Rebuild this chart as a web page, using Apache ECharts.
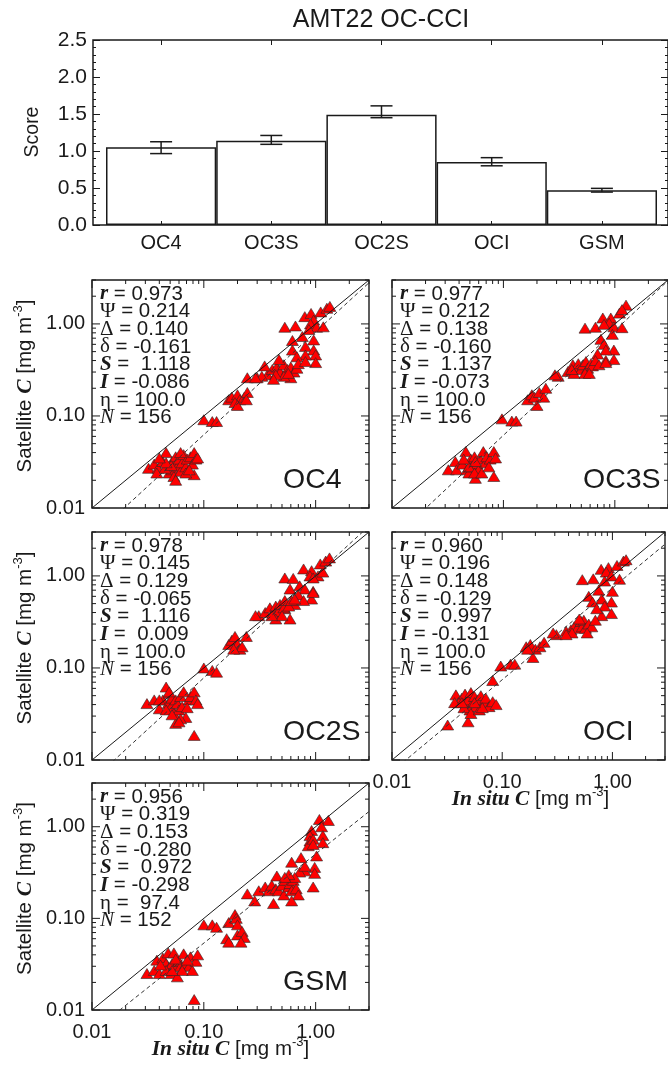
<!DOCTYPE html>
<html><head><meta charset="utf-8">
<script src="https://cdn.jsdelivr.net/npm/echarts@6/dist/echarts.min.js"></script>
<style>html,body{margin:0;padding:0;background:#fff;}#c{width:668px;height:1067px;}</style>
</head><body><div id="c"></div>
<script>
// ---------------- data ----------------
const chartTitle = 'AMT22 OC-CCI';
const algorithms = ['OC4', 'OC3S', 'OC2S', 'OCI', 'GSM'];
const scoreValues = [1.05, 1.14, 1.49, 0.85, 0.47];
const scoreErrLow = [0.965, 1.09, 1.45, 0.80, 0.445];
const scoreErrHigh = [1.125, 1.21, 1.61, 0.91, 0.495];

const logMajorTicks = [0.01, 0.1, 1];
const logMinorTicks = [0.02, 0.03, 0.04, 0.05, 0.06, 0.07, 0.08, 0.09,
  0.2, 0.3, 0.4, 0.5, 0.6, 0.7, 0.8, 0.9, 2, 3];

const statR = ['0.973', '0.977', '0.978', '0.960', '0.956'];
const statPsi = ['0.214', '0.212', '0.145', '0.196', '0.319'];
const statBigDelta = ['0.140', '0.138', '0.129', '0.148', '0.153'];
const statSmallDelta = ['-0.161', '-0.160', '-0.065', '-0.129', '-0.280'];
const statSlope = [1.118, 1.137, 1.116, 0.997, 0.972];
const statIntercept = [-0.086, -0.073, 0.009, -0.131, -0.298];
const statEta = ['100.0', '100.0', '100.0', '100.0', ' 97.4'];
const statN = ['156', '156', '156', '156', '152'];

const pointsOC4 = [
  [0.53,0.92],[0.66,0.95],[0.80,1.2],[0.91,1.3],[0.96,1.1],[0.90,1.0],[1.02,0.92],[1.11,1.35],[1.26,1.48],[1.34,1.55],
  [1.17,0.93],[0.87,0.87],[0.62,0.66],[0.76,0.73],[0.96,0.67],[0.62,0.52],[0.81,0.57],[0.96,0.52],[1.0,0.46],[0.81,0.46],
  [0.68,0.44],[1.0,0.38],
  [0.30,0.26],[0.37,0.28],[0.41,0.32],[0.45,0.34],[0.48,0.30],[0.52,0.36],[0.56,0.32],[0.60,0.34],[0.64,0.30],[0.68,0.33],
  [0.70,0.37],[0.60,0.26],[0.52,0.27],[0.44,0.28],[0.47,0.41],[0.81,0.39],[0.35,0.35],[0.42,0.25],[0.33,0.27],[0.57,0.29],
  [0.245,0.26],[0.29,0.26],
  [0.167,0.15],[0.178,0.16],[0.20,0.17],[0.21,0.15],[0.23,0.16],[0.245,0.18],[0.19,0.14],[0.24,0.15],[0.20,0.13],
  [0.10,0.091],[0.119,0.087],[0.13,0.087],
  [0.032,0.027],[0.036,0.030],[0.039,0.027],[0.043,0.032],[0.046,0.040],[0.048,0.028],[0.049,0.024],[0.052,0.032],
  [0.052,0.026],[0.054,0.022],[0.056,0.036],[0.058,0.028],[0.060,0.034],[0.062,0.025],[0.064,0.031],[0.066,0.038],
  [0.069,0.028],[0.071,0.034],[0.076,0.036],[0.079,0.030],[0.082,0.040],[0.085,0.034],[0.088,0.035],[0.082,0.023],
  [0.056,0.020],[0.045,0.027],[0.051,0.029],[0.062,0.040],[0.046,0.031],[0.040,0.035],[0.038,0.024],[0.069,0.024],[0.074,0.026]
];
const pointsOC3S = [
  [0.54,0.90],[0.67,0.92],[0.78,1.16],[0.92,1.16],[0.89,1.02],[0.80,0.99],[0.98,0.93],[1.16,0.91],[1.10,1.31],[1.26,1.60],
  [1.16,1.43],[0.95,0.77],[0.75,0.68],[0.80,0.60],[0.98,0.52],[0.83,0.52],[0.70,0.47],[0.98,0.41],[0.83,0.40],
  [0.31,0.27],[0.38,0.305],[0.42,0.36],[0.45,0.33],[0.47,0.37],[0.50,0.32],[0.52,0.36],[0.55,0.39],[0.57,0.33],[0.61,0.37],
  [0.63,0.35],[0.67,0.40],[0.72,0.36],[0.54,0.29],[0.43,0.29],[0.41,0.32],[0.59,0.29],[0.83,0.38],
  [0.165,0.15],[0.18,0.17],[0.19,0.16],[0.20,0.13],[0.21,0.18],[0.23,0.16],[0.24,0.20],[0.29,0.28],
  [0.097,0.093],[0.119,0.088],[0.13,0.088],
  [0.032,0.026],[0.037,0.032],[0.038,0.026],[0.043,0.030],[0.046,0.041],[0.047,0.026],[0.049,0.024],[0.051,0.034],
  [0.052,0.028],[0.055,0.036],[0.056,0.021],[0.058,0.030],[0.060,0.026],[0.062,0.034],[0.066,0.041],[0.069,0.031],
  [0.071,0.036],[0.076,0.034],[0.082,0.041],[0.085,0.035],[0.082,0.022],[0.049,0.028],[0.055,0.024],[0.044,0.034],
  [0.064,0.024],[0.056,0.032],[0.074,0.028]
];
const pointsOC2S = [
  [0.53,0.95],[0.63,0.94],[0.78,1.19],[0.92,1.14],[0.89,1.0],[1.05,1.0],[1.16,1.1],[1.10,1.35],[1.23,1.45],[1.33,1.57],
  [0.95,0.95],[0.59,0.72],[0.72,0.78],[0.80,0.72],[0.95,0.68],[0.92,0.56],[0.95,0.66],[0.70,0.62],[0.78,0.54],[0.65,0.49],
  [0.53,0.44],[0.59,0.34],
  [0.31,0.37],[0.354,0.40],[0.39,0.45],[0.42,0.40],[0.44,0.47],[0.465,0.41],[0.48,0.49],[0.52,0.45],[0.53,0.54],[0.575,0.47],
  [0.61,0.54],[0.65,0.56],[0.44,0.34],[0.50,0.37],[0.405,0.37],[0.29,0.37],
  [0.167,0.18],[0.178,0.20],[0.19,0.22],[0.20,0.18],[0.21,0.16],[0.22,0.17],[0.24,0.22],[0.185,0.16],
  [0.10,0.10],[0.119,0.094],[0.13,0.09],
  [0.031,0.041],[0.036,0.045],[0.040,0.036],[0.043,0.045],[0.046,0.062],[0.048,0.041],[0.049,0.053],[0.051,0.038],
  [0.052,0.047],[0.054,0.032],[0.056,0.045],[0.056,0.025],[0.058,0.041],[0.060,0.035],[0.062,0.049],[0.064,0.038],
  [0.066,0.055],[0.069,0.029],[0.074,0.045],[0.076,0.049],[0.082,0.055],[0.085,0.045],[0.088,0.041],[0.082,0.0185],
  [0.046,0.035],[0.052,0.031],[0.040,0.045],[0.062,0.028],[0.071,0.037],[0.049,0.055],[0.060,0.026]
];
const pointsOCI = [
  [0.533,0.91],[0.67,0.93],[0.79,1.18],[0.92,1.23],[0.88,1.10],[0.85,0.88],[0.98,1.0],[1.16,0.92],[1.10,1.30],[1.26,1.45],
  [1.33,1.50],[1.0,0.68],[0.75,0.70],[0.61,0.60],[0.80,0.56],[0.98,0.52],[0.66,0.52],[0.85,0.47],[0.98,0.39],[0.80,0.37],
  [0.72,0.44],
  [0.31,0.23],[0.38,0.25],[0.42,0.26],[0.45,0.28],[0.48,0.27],[0.52,0.32],[0.533,0.28],[0.55,0.33],[0.57,0.27],[0.61,0.30],
  [0.65,0.28],[0.70,0.33],[0.59,0.24],[0.43,0.24],[0.50,0.34],[0.29,0.24],[0.38,0.23],
  [0.165,0.17],[0.18,0.18],[0.20,0.16],[0.22,0.17],[0.24,0.19],[0.19,0.13],[0.17,0.16],
  [0.097,0.105],[0.119,0.11],[0.13,0.11],[0.082,0.073],
  [0.032,0.024],[0.038,0.051],[0.040,0.042],[0.043,0.047],[0.046,0.052],[0.047,0.040],[0.049,0.045],[0.051,0.035],
  [0.052,0.054],[0.055,0.043],[0.056,0.049],[0.049,0.026],[0.058,0.038],[0.060,0.045],[0.064,0.050],[0.069,0.042],
  [0.071,0.047],[0.076,0.038],[0.082,0.043],[0.088,0.040],[0.037,0.042],[0.045,0.037],[0.052,0.032],[0.062,0.035],
  [0.066,0.037],[0.043,0.042],[0.056,0.042]
];
const pointsGSM = [
  [0.92,0.91],[0.89,0.80],[0.89,0.70],[0.86,0.62],[0.95,0.73],[1.08,1.2],[1.30,1.17],[1.13,1.0],[1.16,0.80],[1.16,0.67],
  [1.02,0.48],[0.95,0.64],[0.98,0.36],[0.98,0.31],[0.95,0.22],[0.80,0.33],[0.72,0.32],[0.80,0.37],[0.61,0.41],[0.74,0.46],
  [0.31,0.20],[0.354,0.22],[0.38,0.20],[0.405,0.23],[0.44,0.21],[0.45,0.29],[0.465,0.20],[0.50,0.23],[0.52,0.18],[0.53,0.26],
  [0.575,0.22],[0.59,0.24],[0.61,0.20],[0.63,0.26],[0.65,0.28],[0.67,0.21],[0.70,0.18],[0.61,0.155],[0.42,0.145],[0.575,0.30],
  [0.285,0.155],[0.245,0.185],[0.53,0.28],
  [0.10,0.085],[0.119,0.085],[0.13,0.08],[0.167,0.09],[0.19,0.11],[0.195,0.10],[0.20,0.085],[0.16,0.06],[0.167,0.055],
  [0.20,0.066],[0.22,0.072],[0.23,0.062],[0.215,0.055],
  [0.031,0.025],[0.036,0.027],[0.038,0.035],[0.040,0.025],[0.043,0.037],[0.046,0.032],[0.048,0.042],[0.049,0.029],
  [0.051,0.025],[0.052,0.032],[0.054,0.042],[0.056,0.030],[0.058,0.023],[0.060,0.034],[0.062,0.030],[0.066,0.041],
  [0.069,0.032],[0.074,0.030],[0.076,0.038],[0.079,0.027],[0.085,0.034],[0.088,0.040],[0.082,0.013],[0.046,0.027],
  [0.056,0.036],[0.064,0.027],[0.071,0.035],[0.041,0.031],[0.052,0.027]
];
const scatterSets = [pointsOC4, pointsOC3S, pointsOC2S, pointsOCI, pointsGSM];

// ---------------- layout ----------------
const LOGMIN = 0.01, LOGMAX = 3;
const panels = [
  {left: 92, top: 280, w: 277, h: 228, yLab: true, xLab: false},
  {left: 392, top: 280, w: 277, h: 228, yLab: false, xLab: false},
  {left: 92, top: 532, w: 277, h: 228, yLab: true, xLab: false},
  {left: 392, top: 532, w: 277, h: 228, yLab: false, xLab: true},
  {left: 92, top: 783, w: 277, h: 227, yLab: true, xLab: true}
];
const INK = '#1a1a1a';
const SANS = 'Liberation Sans, Arial, Helvetica, sans-serif';
const SERIF = 'Liberation Serif, Times New Roman, serif';
const isDecade = v => { const l = Math.log10(v); return Math.abs(l - Math.round(l)) < 1e-6; };
const signPad = v => (v >= 0 ? ' ' : '') + v.toFixed(3);
const fitY = (k, x) => Math.pow(10, statIntercept[k] + statSlope[k] * Math.log10(x));

const grid = [
  {left: 93, top: 40, width: 577, height: 185, show: true, borderColor: INK, borderWidth: 1.5, backgroundColor: 'rgba(0,0,0,0)'},
  {left: 106, top: 40, width: 551, height: 185}
];
panels.forEach(p => grid.push({left: p.left, top: p.top, width: p.w, height: p.h, show: true,
  borderColor: INK, borderWidth: 1.4, backgroundColor: 'rgba(0,0,0,0)'}));

const tickLine = {color: INK, width: 1};
const xAxis = [
  {gridIndex: 0, type: 'value', show: false, min: 0, max: 1},
  {gridIndex: 1, type: 'category', data: algorithms, position: 'bottom', z: 10,
    axisLine: {show: false}, splitLine: {show: false},
    axisTick: {show: true, inside: true, alignWithLabel: true, length: 4, lineStyle: tickLine},
    axisLabel: {margin: 8, fontSize: 20, fontFamily: SANS, color: INK}},
  {gridIndex: 1, type: 'category', data: algorithms, position: 'top', z: 10,
    axisLine: {show: false}, splitLine: {show: false}, axisLabel: {show: false},
    axisTick: {show: true, inside: true, alignWithLabel: true, length: 5, lineStyle: tickLine}}
];
const yAxis = [
  {gridIndex: 0, type: 'value', min: 0, max: 2.5, interval: 0.5, position: 'left', z: 10,
    axisLine: {show: false}, splitLine: {show: false},
    axisTick: {show: true, inside: true, length: 7, lineStyle: tickLine},
    minorTick: {show: true, splitNumber: 5, length: 3, lineStyle: tickLine},
    axisLabel: {margin: 6, fontSize: 21, fontFamily: SANS, color: INK, formatter: v => v.toFixed(1)}},
  {gridIndex: 0, type: 'value', min: 0, max: 2.5, interval: 0.5, position: 'right', z: 10,
    axisLine: {show: false}, splitLine: {show: false}, axisLabel: {show: false},
    axisTick: {show: true, inside: true, length: 7, lineStyle: tickLine},
    minorTick: {show: true, splitNumber: 5, length: 3, lineStyle: tickLine}},
  {gridIndex: 1, type: 'value', min: 0, max: 2.5, show: false}
];
panels.forEach((p, k) => {
  xAxis.push({gridIndex: 2 + k, type: 'log', logBase: 10, min: LOGMIN, max: LOGMAX,
    axisLine: {show: false}, axisTick: {show: false}, splitLine: {show: false},
    axisLabel: {show: p.xLab, margin: 12, fontSize: 20, fontFamily: SANS, color: INK,
      formatter: v => isDecade(v) ? v.toFixed(2) : ''}});
  yAxis.push({gridIndex: 2 + k, type: 'log', logBase: 10, min: LOGMIN, max: LOGMAX,
    axisLine: {show: false}, axisTick: {show: false}, splitLine: {show: false},
    axisLabel: {show: p.yLab, margin: 7, fontSize: 20, fontFamily: SANS, color: INK,
      formatter: v => isDecade(v) ? v.toFixed(2) : ''}});
});

const series = [];
series.push({type: 'bar', xAxisIndex: 1, yAxisIndex: 2, data: scoreValues, barCategoryGap: '0%', silent: true,
  itemStyle: {color: '#fff', borderColor: INK, borderWidth: 1.5}});
series.push({type: 'custom', xAxisIndex: 1, yAxisIndex: 2, silent: true, z: 6,
  encode: {x: 0, y: [1, 2]},
  data: algorithms.map((a, i) => [i, scoreErrLow[i], scoreErrHigh[i]]),
  renderItem: (params, api) => {
    const lo = api.coord([api.value(0), api.value(1)]);
    const hi = api.coord([api.value(0), api.value(2)]);
    const hw = 11;
    const st = {stroke: INK, lineWidth: 1.5, fill: null};
    return {type: 'group', children: [
      {type: 'line', shape: {x1: lo[0], y1: lo[1], x2: hi[0], y2: hi[1]}, style: st},
      {type: 'line', shape: {x1: lo[0] - hw, y1: lo[1], x2: lo[0] + hw, y2: lo[1]}, style: st},
      {type: 'line', shape: {x1: hi[0] - hw, y1: hi[1], x2: hi[0] + hw, y2: hi[1]}, style: st}
    ]};
  }});

const tickData = [];
logMajorTicks.forEach(v => { tickData.push([v, LOGMIN, 8, 0]); tickData.push([LOGMIN, v, 8, 1]); });
logMinorTicks.forEach(v => { tickData.push([v, LOGMIN, 4, 0]); tickData.push([LOGMIN, v, 4, 1]); });

panels.forEach((p, k) => {
  const ax = {xAxisIndex: 3 + k, yAxisIndex: 3 + k};
  series.push(Object.assign({type: 'custom', silent: true, z: 7, data: tickData,
    renderItem: (params, api) => {
      const cs = params.coordSys;
      const pt = api.coord([api.value(0), api.value(1)]);
      const len = api.value(2);
      const st = {stroke: INK, lineWidth: 1};
      if (api.value(3) === 0) {
        return {type: 'group', children: [
          {type: 'line', shape: {x1: pt[0], y1: cs.y + cs.height, x2: pt[0], y2: cs.y + cs.height - len}, style: st},
          {type: 'line', shape: {x1: pt[0], y1: cs.y, x2: pt[0], y2: cs.y + len}, style: st}]};
      }
      return {type: 'group', children: [
        {type: 'line', shape: {x1: cs.x, y1: pt[1], x2: cs.x + len, y2: pt[1]}, style: st},
        {type: 'line', shape: {x1: cs.x + cs.width, y1: pt[1], x2: cs.x + cs.width - len, y2: pt[1]}, style: st}]};
    }}, ax));
  series.push(Object.assign({type: 'scatter', data: scatterSets[k], symbol: 'triangle', symbolSize: [12, 10], silent: true, z: 3,
    itemStyle: {color: '#ff0000', borderColor: '#2a2a2a', borderWidth: 0.6, opacity: 1}}, ax));
  series.push(Object.assign({type: 'line', data: [[LOGMIN, LOGMIN], [LOGMAX, LOGMAX]], symbol: 'none', clip: true, silent: true, z: 5,
    lineStyle: {color: INK, width: 1}}, ax));
  series.push(Object.assign({type: 'line', data: [[LOGMIN, fitY(k, LOGMIN)], [LOGMAX, fitY(k, LOGMAX)]], symbol: 'none', clip: true, silent: true, z: 5,
    lineStyle: {color: '#333', width: 1, type: [4, 3]}}, ax));
});

// ---------------- texts ----------------
const rich = {
  bi: {fontFamily: SERIF, fontStyle: 'italic', fontWeight: 'bold', fontSize: 21, lineHeight: 17.7, fill: INK},
  it: {fontFamily: SERIF, fontStyle: 'italic', fontSize: 21, lineHeight: 17.7, fill: INK},
  g: {fontFamily: SERIF, fontSize: 21, lineHeight: 17.7, fill: INK},
  n: {fontFamily: SANS, fontSize: 20.5, lineHeight: 17.7, fill: INK}
};
const nameRich = {
  s: {fontFamily: SANS, fontSize: 20.5, lineHeight: 26, fill: INK},
  c: {fontFamily: SERIF, fontStyle: 'italic', fontWeight: 'bold', fontSize: 21.5, lineHeight: 26, fill: INK},
  sup: {fontFamily: SANS, fontSize: 13, lineHeight: 26, verticalAlign: 'top', fill: INK}
};
const graphics = [];
graphics.push({type: 'text', x: 381, y: 20, silent: true,
  style: {text: chartTitle, fontFamily: SANS, fontSize: 25, fill: INK, align: 'center', verticalAlign: 'middle'}});
graphics.push({type: 'text', x: 33, y: 132, rotation: Math.PI / 2, silent: true,
  style: {text: 'Score', fontFamily: SANS, fontSize: 19.5, fill: INK, align: 'center', verticalAlign: 'middle'}});
panels.forEach((p, k) => {
  const txt = [
    '{bi|r}{n| = ' + statR[k] + '}',
    '{g|Ψ}{n| = ' + statPsi[k] + '}',
    '{g|Δ}{n| = ' + statBigDelta[k] + '}',
    '{g|δ}{n| = ' + statSmallDelta[k] + '}',
    '{bi|S}{n| = ' + signPad(statSlope[k]) + '}',
    '{bi|I}{n| = ' + signPad(statIntercept[k]) + '}',
    '{g|η}{n| = ' + statEta[k] + '}',
    '{it|N}{n| = ' + statN[k] + '}'
  ].join('\n');
  graphics.push({type: 'text', x: p.left + 8, y: p.top + 5, silent: true, z: 20,
    style: {text: txt, rich: rich, align: 'left', verticalAlign: 'top'}});
  graphics.push({type: 'text', x: p.left + 191, y: p.top + p.h - 28, silent: true, z: 20,
    style: {text: algorithms[k], fontFamily: SANS, fontSize: 28.5, fill: INK, align: 'left', verticalAlign: 'middle'}});
  if (p.yLab) {
    graphics.push({type: 'text', x: 25, y: p.top + p.h / 2 - 8, rotation: Math.PI / 2, silent: true,
      style: {text: '{s|Satellite }{c|C}{s| [mg m}{sup|-3}{s|]}', rich: nameRich, align: 'center', verticalAlign: 'middle'}});
  }
  if (p.xLab) {
    graphics.push({type: 'text', x: p.left + p.w / 2, y: p.top + p.h + 39, silent: true,
      style: {text: '{c|In situ C}{s| [mg m}{sup|-3}{s|]}', rich: nameRich, align: 'center', verticalAlign: 'middle'}});
  }
});

const chart = echarts.init(document.getElementById('c'), null, {renderer: 'canvas', width: 668, height: 1067});
chart.setOption({
  animation: false,
  backgroundColor: '#ffffff',
  grid: grid, xAxis: xAxis, yAxis: yAxis, series: series,
  graphic: {elements: graphics}
});
</script>
</body></html>
